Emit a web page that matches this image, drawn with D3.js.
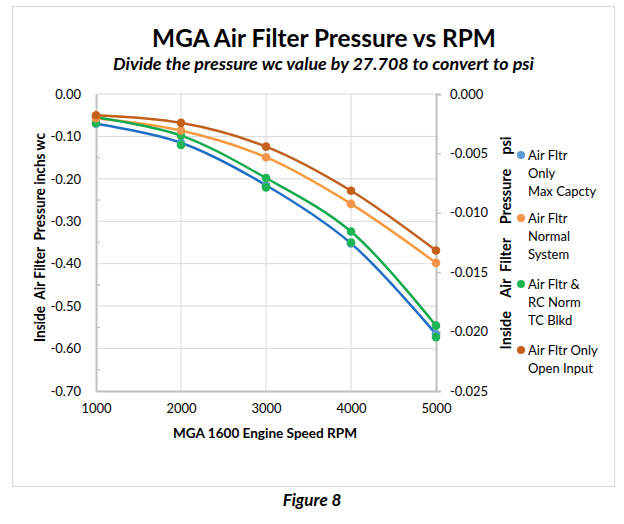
<!DOCTYPE html>
<html><head><meta charset="utf-8">
<script src="https://cdn.jsdelivr.net/npm/d3@7"></script>
<style>
body{margin:0;background:#fff;}
svg text{font-family:Lato,"Open Sans",sans-serif;fill:#000;}
</style></head>
<body><svg id="c" width="624" height="524"></svg>
<script>
const rpm = [1000, 2000, 3000, 4000, 5000];
const maxCapcty   = [-0.070, -0.115, -0.215, -0.352, -0.566];
const normalSys   = [-0.057, -0.086, -0.149, -0.259, -0.398];
const rcNormTC    = [-0.055, -0.098, -0.198, -0.324, -0.546];
const rcNormTC2   = [-0.068, -0.120, -0.220, -0.350, -0.573];
const openInput   = [-0.050, -0.068, -0.124, -0.228, -0.369];
const leftTicks  = [0, -0.1, -0.2, -0.3, -0.4, -0.5, -0.6, -0.7];
const rightTicks = [0, -0.005, -0.010, -0.015, -0.020, -0.025];
const xTicks = [1000, 2000, 3000, 4000, 5000];
const seriesNames = [["Air Fltr","Only","Max Capcty"],["Air Fltr","Normal","System"],["Air Fltr &","RC Norm","TC Blkd"],["Air Fltr Only","Open Input"]];

const series = [
  {vals: maxCapcty, line:"#1f6fc5", mark:"#5b9bd5"},
  {vals: normalSys, line:"#f79a3e", mark:"#f4934a"},
  {vals: rcNormTC,  line:"#12aa4c", mark:"#1db454"},
  {vals: openInput, line:"#c0601c", mark:"#c5601c"}
];

const svg = d3.select("#c");
const L=96, R=436, T=94, B=391;
const x = d3.scaleLinear().domain([1000,5000]).range([L,R]);
const y = d3.scaleLinear().domain([-0.7,0]).range([B,T]);
const y2 = d3.scaleLinear().domain([-0.025,0]).range([B,T]);
const hy = f => d => d3.format(f)(d).replace("\u2212","-");

function fit(sel, target){
  const w = sel.node().getComputedTextLength();
  const fs = parseFloat(sel.attr("font-size"));
  sel.attr("font-size", (fs*target/w).toFixed(2));
  return sel;
}
function spaceFit(sel, target){
  const w = sel.node().getComputedTextLength();
  const n = (sel.text().match(/ /g)||[]).length;
  sel.attr("word-spacing", ((target-w)/n).toFixed(2));
  return sel;
}

// border
svg.append("rect").attr("x",12.5).attr("y",6.5).attr("width",602).attr("height",480)
  .attr("fill","#fff").attr("stroke","#d9d9d9").attr("stroke-width",1.2);

// gridlines
svg.append("g").selectAll("line").data(leftTicks.filter(d=>d!==-0.7 && d!==0)).join("line")
  .attr("x1",L).attr("x2",R).attr("y1",d=>y(d)).attr("y2",d=>y(d))
  .attr("stroke","#d9d9d9").attr("stroke-width",1);
svg.append("g").selectAll("line").data(xTicks.slice(1,-1)).join("line")
  .attr("y1",T).attr("y2",B).attr("x1",d=>x(d)).attr("x2",d=>x(d))
  .attr("stroke","#d9d9d9").attr("stroke-width",1);
svg.append("line").attr("x1",L).attr("x2",R).attr("y1",T).attr("y2",T).attr("stroke","#d9d9d9");

// axes
const gL = svg.append("g").attr("transform",`translate(${L},0)`)
  .call(d3.axisLeft(y).tickValues(leftTicks).tickFormat(hy(".2f")).tickSize(0).tickPadding(15));
const gR = svg.append("g").attr("transform",`translate(${R},0)`)
  .call(d3.axisRight(y2).tickValues(rightTicks).tickFormat(hy(".3f")).tickSize(5).tickPadding(9));
const gB = svg.append("g").attr("transform",`translate(0,${B})`)
  .call(d3.axisBottom(x).tickValues(xTicks).tickFormat(d3.format("d")).tickSize(0).tickPadding(13));
[gL,gR,gB].forEach(g=>{
  g.select(".domain").attr("stroke","#bfbfbf").attr("stroke-width",2);
  g.selectAll(".tick line").attr("stroke","#bfbfbf").attr("stroke-width",1.2);
  g.selectAll("text").attr("font-size",13).attr("font-family","Lato").attr("fill","#000");
});
// minor ticks on left
svg.append("g").selectAll("line").data(d3.range(-0.65,0,0.1)).join("line")
  .attr("x1",L).attr("x2",L+4).attr("y1",d=>y(d)).attr("y2",d=>y(d))
  .attr("stroke","#bfbfbf").attr("stroke-width",1.2);

// lines
const line = d3.line().x((d,i)=>x(rpm[i])).y(d=>y(d)).curve(d3.curveCatmullRom.alpha(0.5));
const gl = svg.append("g");
series.forEach(s=>{
  gl.append("path").attr("d",line(s.vals)).attr("fill","none").attr("stroke",s.line).attr("stroke-width",2.5);
});
// markers
const gm = svg.append("g");
function marks(vals,color){
  gm.append("g").selectAll("circle").data(vals).join("circle")
    .attr("cx",(d,i)=>x(rpm[i])).attr("cy",d=>y(d)).attr("r",4.3).attr("fill",color);
}
marks(maxCapcty, series[0].mark);
marks(rcNormTC2, series[2].mark);
marks(rcNormTC, series[2].mark);
marks(normalSys, series[1].mark);
marks(openInput, series[3].mark);

// titles
fit(svg.append("text").attr("x",324).attr("y",47).attr("text-anchor","middle")
  .attr("font-size",23).attr("font-weight","bold").text("MGA Air Filter Pressure vs RPM"), 344);
fit(svg.append("text").attr("x",323.5).attr("y",70).attr("text-anchor","middle")
  .attr("font-size",15.5).attr("font-weight","bold").attr("font-style","italic")
  .text("Divide the pressure wc value by 27.708 to convert to psi"), 421);
fit(svg.append("text").attr("x",265).attr("y",438).attr("text-anchor","middle")
  .attr("font-size",13).attr("font-weight","bold").text("MGA 1600 Engine Speed RPM"), 184);
svg.append("text").attr("transform","translate(45,237.5) rotate(-90)").attr("text-anchor","middle")
  .attr("font-size",14.5).attr("font-weight","bold").attr("xml:space","preserve")
  .attr("textLength",209).attr("lengthAdjust","spacingAndGlyphs")
  .text("Inside  Air Filter  Pressure inchs wc");
spaceFit(svg.append("text").attr("transform","translate(511,243) rotate(-90)").attr("text-anchor","middle")
  .attr("font-size",14.5).attr("font-weight","bold").attr("xml:space","preserve")
  .text("Inside  Air Filter  Pressure  psi"), 213);
svg.append("text").attr("x",312).attr("y",506).attr("text-anchor","middle")
  .attr("font-size",17).attr("font-weight","bold").attr("font-style","italic").text("Figure 8");

// legend
const legY = [155, 218, 284, 350];
const lg = svg.append("g");
seriesNames.forEach((names,i)=>{
  lg.append("circle").attr("cx",521).attr("cy",legY[i]).attr("r",4).attr("fill",series[i].mark);
  names.forEach((t,j)=>{
    lg.append("text").attr("x",528).attr("y",legY[i]+j*18).attr("dy","0.35em")
      .attr("font-size",13).text(t);
  });
});
</script></body></html>
